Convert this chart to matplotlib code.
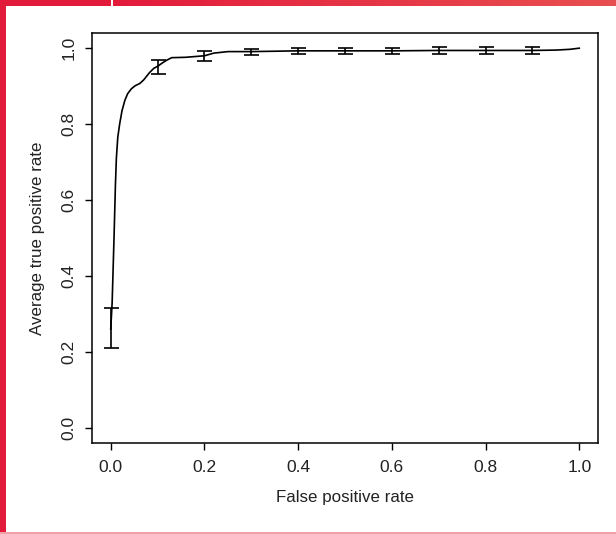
import numpy as np
import matplotlib
matplotlib.use('Agg')
import matplotlib.pyplot as plt
from matplotlib.patches import Rectangle
from matplotlib.colors import LinearSegmentedColormap

plt.rcParams['font.family'] = ['Liberation Sans', 'DejaVu Sans']

# Average ROC curve
fprCurve = [0.0, 0.003, 0.007, 0.010, 0.012, 0.015, 0.019, 0.024, 0.030, 0.036,
            0.044, 0.052, 0.062, 0.070, 0.083, 0.092, 0.101, 0.110, 0.119, 0.130,
            0.160, 0.200, 0.220, 0.250, 0.300, 0.400, 0.500, 0.600, 0.700, 0.800,
            0.900, 0.950, 0.980, 1.000]
tprCurve = [0.26, 0.33, 0.50, 0.64, 0.71, 0.765, 0.80, 0.835, 0.862, 0.880,
            0.893, 0.901, 0.907, 0.916, 0.936, 0.947, 0.953, 0.961, 0.968, 0.975,
            0.976, 0.980, 0.987, 0.991, 0.991, 0.993, 0.993, 0.993, 0.994, 0.994,
            0.994, 0.995, 0.997, 1.000]

# Error bars
errX = [0.0, 0.1, 0.2, 0.3, 0.4, 0.5, 0.6, 0.7, 0.8, 0.9]
errLow = [0.21, 0.933, 0.967, 0.982, 0.985, 0.985, 0.985, 0.986, 0.986, 0.986]
errHigh = [0.315, 0.970, 0.993, 0.999, 1.001, 1.001, 1.001, 1.002, 1.002, 1.002]

xTicks = [0.0, 0.2, 0.4, 0.6, 0.8, 1.0]
yTicks = [0.0, 0.2, 0.4, 0.6, 0.8, 1.0]

fig = plt.figure(figsize=(6.16, 5.34), dpi=100)
ax = fig.add_axes([92/616, 1 - 443/534, 506/616, 410/534])

ax.plot(fprCurve, tprCurve, color='black', lw=1.2)
mid = [(l + h) / 2.0 for l, h in zip(errLow, errHigh)]
half = [(h - l) / 2.0 for l, h in zip(errLow, errHigh)]
ax.errorbar(errX, mid, yerr=half, fmt='none', ecolor='black', elinewidth=1.2,
            capsize=5.4, capthick=1.2)

ax.set_xlim(-0.04, 1.04)
ax.set_ylim(-0.04, 1.04)
ax.set_xticks(xTicks)
ax.set_yticks(yTicks)
ax.set_xticklabels(['%.1f' % t for t in xTicks], fontsize=12.5, color='#222222')
ax.set_yticklabels(['%.1f' % t for t in yTicks], fontsize=12.5, color='#222222',
                   rotation=90, va='center')
ax.tick_params(axis='x', length=5, width=1, pad=7)
ax.tick_params(axis='y', length=5, width=1, pad=6)
for s in ax.spines.values():
    s.set_linewidth(1.1)
ax.set_xlabel('False positive rate', fontsize=12.2, color='#222222', labelpad=11)
ax.set_ylabel('Average true positive rate', fontsize=12.2, color='#222222', labelpad=12)

# Red frame decoration
fig.patches.append(Rectangle((0, 1 - 6/534), 111/616, 6/534, transform=fig.transFigure,
                             facecolor='#e31b3b', edgecolor='none'))
fig.patches.append(Rectangle((0, 0), 6/616, 1, transform=fig.transFigure,
                             facecolor='#e31b3b', edgecolor='none'))
fig.patches.append(Rectangle((0, 0), 1, 2/534, transform=fig.transFigure,
                             facecolor='#f2a0a8', edgecolor='none'))
gax = fig.add_axes([113/616, 1 - 6/534, 503/616, 6/534])
cmap = LinearSegmentedColormap.from_list('red', ['#e31b3b', '#e84f50'])
gax.imshow(np.linspace(0, 1, 100).reshape(1, -1), cmap=cmap, aspect='auto')
gax.axis('off')

plt.savefig('out.png', dpi=100)
